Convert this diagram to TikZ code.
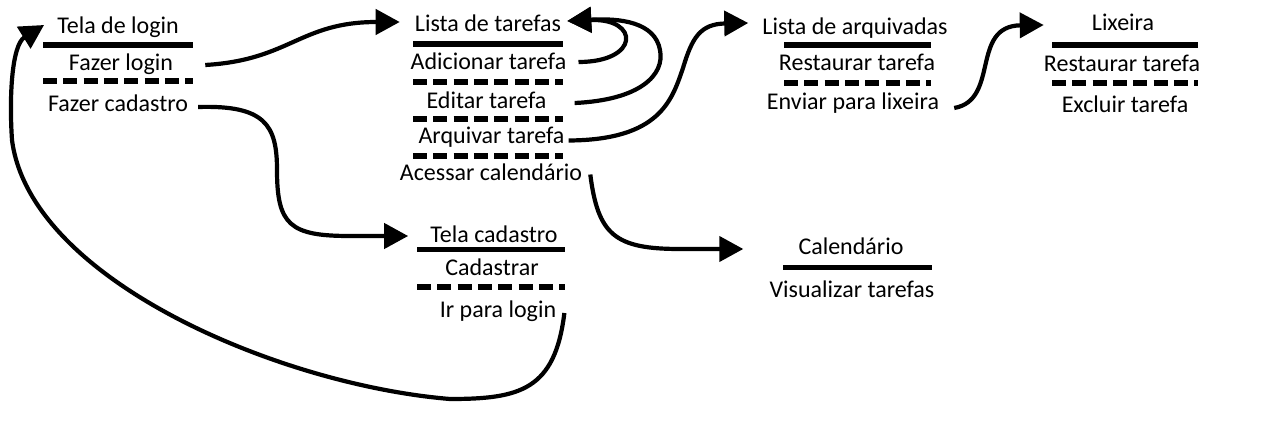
\documentclass[tikz,border=0pt]{standalone}
\usepackage{fontspec}
\setmainfont{Carlito}
\usetikzlibrary{arrows.meta}
\tikzset{
  lbl/.style={font=\fontsize{24}{28}\selectfont, inner sep=0pt, anchor=base},
  solidsep/.style={line width=5.5pt},
  dashsep/.style={line width=6pt, dash pattern=on 14pt off 6.3pt},
  conn/.style={line width=4.2pt, -{Triangle[length=24pt,width=25pt]}},
}
\begin{document}
\begin{tikzpicture}[x=1pt,y=-1pt]
\useasboundingbox[fill=white] (0,0) rectangle (1267,433);

% Tela de login
\node[lbl] (tl) at (118,33.5) {Tela de login};
\draw[solidsep] (43,45) -- (193,45);
\node[lbl] (fl) at (121,70.5) {Fazer login};
\draw[dashsep] (43,81.5) -- (193,81.5);
\node[lbl] (fc) at (118,112) {Fazer cadastro};

% Lista de tarefas
\node[lbl] (lt) at (488,31.5) {Lista de tarefas};
\draw[solidsep] (413,44) -- (563,44);
\node[lbl] (ad) at (488.5,70) {Adicionar tarefa};
\draw[dashsep] (413,82) -- (563,82);
\node[lbl] (ed) at (486.5,108.5) {Editar tarefa};
\draw[dashsep] (413,119.5) -- (563,119.5);
\node[lbl] (ar) at (491.5,143.5) {Arquivar tarefa};
\draw[dashsep] (413,156) -- (563,156);
\node[lbl] (ac) at (491,180.5) {Acessar calendário};

% Lista de arquivadas
\node[lbl] (la) at (855,35) {Lista de arquivadas};
\draw[solidsep] (784,45) -- (931,45);
\node[lbl] (rt1) at (857,70.5) {Restaurar tarefa};
\draw[dashsep] (784,83) -- (931,83);
\node[lbl] (en) at (853,110) {Enviar para lixeira};

% Lixeira
\node[lbl] (lx) at (1123,31) {Lixeira};
\draw[solidsep] (1052,45) -- (1198,45);
\node[lbl] (rt2) at (1122,72) {Restaurar tarefa};
\draw[dashsep] (1052,83) -- (1198,83);
\node[lbl] (ex) at (1125,113) {Excluir tarefa};

% Tela cadastro
\node[lbl] (tc) at (494,242) {Tela cadastro};
\draw[solidsep] (417,249.3) -- (565,249.3);
\node[lbl] (cd) at (492,275) {Cadastrar};
\draw[dashsep] (417,287.3) -- (565,287.3);
\node[lbl] (ir) at (498,317) {Ir para login};

% Calendario
\node[lbl] (cal) at (851,254) {Calendário};
\draw[solidsep] (783,267.3) -- (932,267.3);
\node[lbl] (vt) at (852,297) {Visualizar tarefas};

% connectors
\draw[conn] ([shift={(32,-5.5)}]fl.base east) .. controls (290,60) and (300,22) .. ([shift={(-15,-9.5)}]lt.base west);
\draw[conn] ([shift={(10,-5)}]fc.base east) .. controls (265,105) and (277,125) .. (277,170)
  .. controls (277,225) and (290,236) .. (350,236) -- ([shift={(-22,-6)}]tc.base west);
\draw[conn] ([shift={(12,-8)}]ad.base east) .. controls (640,62) and (640,18) .. ([shift={(6,-10.5)}]lt.base east);
\draw[conn] ([shift={(28,-5.5)}]ed.base east) .. controls (640,100) and (665,75) .. (660,50)
  .. controls (655,22) and (620,18) .. ([shift={(6,-10.5)}]lt.base east);
\draw[conn] ([shift={(4,-3)}]ar.base east) .. controls (660,140) and (672,100) .. (683,68)
  .. controls (692,38) and (700,24) .. ([shift={(-14,-12)}]la.base west);
\draw[conn] ([shift={(8,-6)}]ac.base east) .. controls (598,235) and (615,249) .. (680,249)
  -- ([shift={(-55,-5)}]cal.base west);
\draw[conn] ([shift={(15,-2)}]en.base east) .. controls (1000,100) and (970,26) .. ([shift={(-48,-6)}]lx.base west);
\draw[conn] ([shift={(8,-4)}]ir.base east) .. controls (555,390) and (520,399) .. (450,399)
  .. controls (280,385) and (30,280) .. (12,140)
  .. controls (9,95) and (12,45) .. ([shift={(-13,-8.5)}]tl.base west);
\end{tikzpicture}
\end{document}
